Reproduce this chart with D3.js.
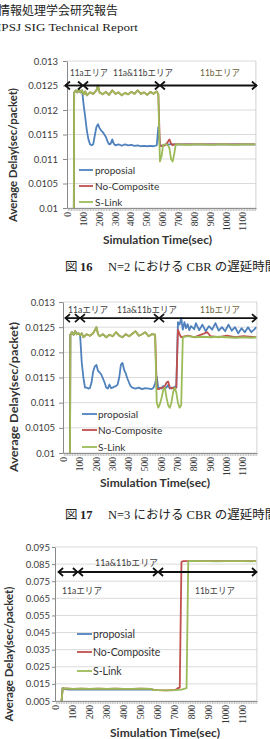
<!DOCTYPE html>
<html>
<head>
<meta charset="utf-8">
<script src="https://cdn.jsdelivr.net/npm/d3@7"></script>
<style>
  body { margin: 0; background: #fff; overflow: hidden; }
  svg { display: block; }
</style>
</head>
<body>
<svg id="page" width="270" height="739"></svg>
<script>
// ---- data (time in sec, delay in sec/packet) ----
const seriesNames = ["proposial", "No-Composite", "S-Link"];
const seriesColors = ["#4F81BD", "#C0504D", "#9BBB59"];
const areaNames = ["11aエリア", "11a&11bエリア", "11bエリア"];
const xLabelTicks = [0, 100, 200, 300, 400, 500, 600, 700, 800, 900, 1000, 1100];

const fig16YTicks = [0.01, 0.0105, 0.011, 0.0115, 0.012, 0.0125, 0.013];
const fig17YTicks = [0.01, 0.0105, 0.011, 0.0115, 0.012, 0.0125, 0.013];
const fig18YTicks = [0.005, 0.015, 0.025, 0.035, 0.045, 0.055, 0.065, 0.075, 0.085, 0.095];

// area boundaries for the double arrows (sec)
const fig16AreaBounds = [-18, 96, 580, 1191];
const fig17AreaBounds = [7, 99, 584, 1185];
const fig18AreaBounds = [13, 130, 602, 1185];

// fig 16 (N=2)
const fig16Lead = [[0, 0], [30, 0], [40, 0.01235], [50, 0.0124], [60, 0.01236], [70, 0.01242], [80, 0.01236], [90, 0.0124]];
const fig16Plateau = [[100, 0.01232], [110, 0.01238], [120, 0.0123], [140, 0.01236], [160, 0.01233], [180, 0.0124],
  [190, 0.0125], [200, 0.01236], [220, 0.01232], [240, 0.01237], [260, 0.01231], [280, 0.0124], [300, 0.01233],
  [320, 0.01236], [340, 0.0123], [360, 0.01235], [380, 0.01232], [400, 0.01237], [420, 0.01233], [440, 0.0124],
  [460, 0.01233], [480, 0.01236], [500, 0.01231], [520, 0.01237], [540, 0.01233], [560, 0.01238], [570, 0.01232]];
const fig16GreenTail = [[580, 0.01095], [590, 0.01105], [600, 0.01128], [610, 0.0113], [620, 0.0113], [630, 0.01128],
  [640, 0.01122], [650, 0.011], [660, 0.01095], [670, 0.0111], [680, 0.0113], [700, 0.0113], [750, 0.01129],
  [800, 0.0113], [850, 0.0113], [900, 0.01129], [950, 0.0113], [1000, 0.0113], [1050, 0.01129], [1100, 0.0113],
  [1150, 0.0113], [1180, 0.0113]];
const fig16RedTail = [[580, 0.01127], [590, 0.01127], [600, 0.01127], [610, 0.01128], [620, 0.0113], [630, 0.01135],
  [640, 0.0114], [650, 0.01132], [660, 0.01128], [670, 0.0113], [680, 0.0113], [700, 0.0113], [800, 0.0113],
  [900, 0.0113], [1000, 0.0113], [1100, 0.0113], [1180, 0.0113]];
const fig16BlueTail = [[100, 0.0121], [110, 0.01185], [120, 0.01158], [130, 0.0114], [140, 0.0113], [150, 0.01128],
  [160, 0.0113], [170, 0.01148], [180, 0.01165], [190, 0.01171], [200, 0.01163], [210, 0.01158], [220, 0.01155],
  [230, 0.0115], [240, 0.01145], [250, 0.01136], [260, 0.0113], [270, 0.01131], [280, 0.0114], [290, 0.01131],
  [300, 0.01128], [320, 0.0113], [340, 0.01127], [360, 0.0113], [380, 0.01128], [400, 0.01129], [420, 0.01127],
  [440, 0.01128], [460, 0.01126], [480, 0.01127], [500, 0.01126], [520, 0.01127], [540, 0.01126], [560, 0.01128],
  [570, 0.01165], [580, 0.01127], [590, 0.01127], [600, 0.01127], [620, 0.0113], [700, 0.0113], [800, 0.0113],
  [900, 0.0113], [1000, 0.0113], [1100, 0.0113], [1180, 0.0113]];

// fig 17 (N=3)
const fig17Lead = [[0, 0], [30, 0], [40, 0.01235], [50, 0.0124], [60, 0.01235], [70, 0.01242], [80, 0.01236],
  [90, 0.01238], [100, 0.01234]];
const fig17Plateau = [[110, 0.01238], [120, 0.0123], [140, 0.01236], [160, 0.01233], [180, 0.01238], [200, 0.0125],
  [210, 0.01236], [220, 0.01232], [240, 0.01236], [260, 0.0123], [280, 0.01235], [300, 0.01232], [320, 0.0124],
  [340, 0.01233], [360, 0.0123], [380, 0.01236], [400, 0.01232], [420, 0.01237], [440, 0.01242], [460, 0.01233],
  [480, 0.01236], [500, 0.0124], [520, 0.01232], [540, 0.01236], [560, 0.01235]];
const fig17GreenTail = [[570, 0.011], [580, 0.0109], [590, 0.01098], [600, 0.0111], [610, 0.01125], [620, 0.0113],
  [630, 0.0111], [640, 0.01095], [650, 0.0109], [660, 0.011], [670, 0.0112], [680, 0.0113], [690, 0.0112],
  [700, 0.011], [710, 0.0109], [720, 0.01095], [730, 0.0123], [760, 0.01232], [800, 0.0123], [850, 0.01231],
  [900, 0.0123], [950, 0.01231], [1000, 0.0123], [1050, 0.01229], [1100, 0.0123], [1150, 0.01229], [1180, 0.0123]];
const fig17RedTail = [[570, 0.01128], [580, 0.01127], [590, 0.01128], [600, 0.0113], [610, 0.0113], [620, 0.01133],
  [630, 0.0114], [640, 0.01142], [650, 0.0113], [660, 0.01128], [670, 0.0113], [680, 0.01128], [690, 0.0113],
  [700, 0.01245], [710, 0.01236], [720, 0.0123], [760, 0.01233], [800, 0.0123], [850, 0.01236], [880, 0.0124],
  [900, 0.01232], [950, 0.0123], [1000, 0.01233], [1050, 0.0123], [1100, 0.01232], [1180, 0.0123]];
const fig17BlueTail = [[110, 0.0118], [120, 0.0115], [130, 0.0113], [140, 0.0113], [150, 0.01128], [160, 0.01129],
  [170, 0.0114], [180, 0.01162], [190, 0.01172], [200, 0.01175], [210, 0.01163], [220, 0.0116], [230, 0.01156],
  [240, 0.01148], [250, 0.0114], [260, 0.0113], [270, 0.01128], [280, 0.01136], [290, 0.01129], [300, 0.0113],
  [310, 0.01132], [320, 0.01133], [330, 0.01136], [340, 0.0115], [350, 0.01175], [360, 0.01179], [370, 0.01165],
  [380, 0.01158], [390, 0.01148], [400, 0.0114], [410, 0.01133], [420, 0.0113], [440, 0.01128], [460, 0.0113],
  [480, 0.01127], [500, 0.01129], [520, 0.01128], [540, 0.01127], [550, 0.0113], [560, 0.01138], [570, 0.01152],
  [580, 0.01127], [590, 0.0113], [600, 0.01128], [610, 0.01133], [620, 0.01128], [630, 0.0113], [640, 0.01135],
  [650, 0.01128], [660, 0.0113], [670, 0.01128], [680, 0.01132], [690, 0.0113], [700, 0.0126], [710, 0.01255],
  [720, 0.01268], [730, 0.01245], [740, 0.0126], [750, 0.01248], [760, 0.01256], [770, 0.01244], [780, 0.01252],
  [800, 0.01246], [810, 0.01258], [830, 0.01244], [850, 0.01255], [870, 0.01242], [890, 0.01252], [910, 0.01245],
  [930, 0.01258], [950, 0.01243], [970, 0.0125], [990, 0.01242], [1010, 0.01255], [1030, 0.01243], [1050, 0.0125],
  [1070, 0.01238], [1090, 0.01248], [1110, 0.0124], [1130, 0.0125], [1150, 0.0124], [1170, 0.01246], [1180, 0.0125]];

// third figure (0.005 - 0.095 scale)
const fig18Lead = [[0, 0], [30, 0], [40, 0.0125]];
const fig18Plateau = [[50, 0.0123], [100, 0.0121], [150, 0.0122], [200, 0.0121], [250, 0.0122], [300, 0.0121],
  [350, 0.0122], [400, 0.0121], [450, 0.0121], [500, 0.0122], [560, 0.0121], [580, 0.0114], [600, 0.0113],
  [650, 0.0112], [700, 0.0113]];
const fig18GreenTail = [[740, 0.0116], [760, 0.0122], [770, 0.0125], [780, 0.0866], [800, 0.0869], [850, 0.0867],
  [900, 0.0868], [950, 0.0866], [1000, 0.0868], [1050, 0.0867], [1100, 0.0868], [1150, 0.0866], [1180, 0.0867]];
const fig18RedTail = [[710, 0.0118], [720, 0.0126], [730, 0.0128], [740, 0.0862], [750, 0.0868], [800, 0.0868],
  [900, 0.0867], [1000, 0.0868], [1100, 0.0867], [1180, 0.0867]];
const fig18BlueTail = [[50, 0.0119], [80, 0.0116], [100, 0.0117], [140, 0.0116], [180, 0.0117], [220, 0.0116],
  [260, 0.0117], [300, 0.0116], [340, 0.0117], [380, 0.0116], [420, 0.0117], [460, 0.0116], [500, 0.0117],
  [540, 0.0116], [570, 0.0116]];

// series in drawing order: proposial, No-Composite, S-Link (on top)
const fig16Series = [fig16Lead.concat(fig16BlueTail), fig16Lead.concat(fig16Plateau, fig16RedTail), fig16Lead.concat(fig16Plateau, fig16GreenTail)];
const fig17Series = [fig17Lead.concat(fig17BlueTail), fig17Lead.concat(fig17Plateau, fig17RedTail), fig17Lead.concat(fig17Plateau, fig17GreenTail)];
const fig18Series = [fig18Lead.concat(fig18BlueTail), fig18Lead.concat(fig18Plateau, fig18RedTail), fig18Lead.concat(fig18Plateau, fig18GreenTail)];

// ---- layout ----
const charts = [
  { name: "a", left: 67, right: 256, top: 61, bottom: 208, yDomain: [0.01, 0.013], yTicks: fig16YTicks,
    yTickSize: 4, yPad: 5, series: fig16Series, bounds: fig16AreaBounds, arrowY: 0.0125,
    labels: [[70, 75.5, 38], [113, 75.5, 60], [200, 75.5, 40]],
    legend: { x1: 79, x2: 93, tx: 95, ys: [170, 186, 202], size: 10 },
    xTitle: { cx: 157.5, y: 244, len: 109 }, yTitle: { cx: 12.5, cy: 155, len: 134 } },
  { name: "b", left: 63, right: 257, top: 302, bottom: 453, yDomain: [0.01, 0.013], yTicks: fig17YTicks,
    yTickSize: 4, yPad: 4, series: fig17Series, bounds: fig17AreaBounds, arrowY: 0.01268,
    labels: [[68, 312.5, 40], [117, 312.5, 60], [200, 312.5, 40]],
    legend: { x1: 82, x2: 97, tx: 98, ys: [414, 430, 447], size: 10 },
    xTitle: { cx: 155, y: 487, len: 110 }, yTitle: { cx: 13.5, cy: 397, len: 150 } },
  { name: "c", left: 55, right: 257, top: 547, bottom: 701, yDomain: [0.005, 0.095], yTicks: fig18YTicks,
    yTickSize: 3, yPad: 2, series: fig18Series, bounds: fig18AreaBounds, arrowY: 0.0804,
    labels: [[62, 593.5, 40], [95, 565.5, 63], [195, 593.5, 40]],
    legend: { x1: 77, x2: 92, tx: 93, ys: [634, 652, 671], size: 10.5 },
    xTitle: { cx: 165, y: 737, len: 110 }, yTitle: { cx: 9, cy: 654, len: 135 } }
];

const sansFont = "Lato, 'Noto Sans CJK JP', sans-serif";
const serifFont = "'Liberation Serif', 'Noto Sans CJK JP', serif";
const svg = d3.select("#page");

// page header
svg.append("text").attr("x", -2).attr("y", 14.5)
  .attr("font-family", "'Noto Sans CJK JP', sans-serif").attr("font-size", 12).attr("fill", "#222")
  .text("情報処理学会研究報告");
svg.append("text").attr("x", -3).attr("y", 30.5)
  .attr("font-family", serifFont).attr("font-size", 11).attr("fill", "#222")
  .attr("textLength", 141).attr("lengthAdjust", "spacingAndGlyphs")
  .text("IPSJ SIG Technical Report");

let drawChart = (c) => {
  const x = d3.scaleLinear().domain([-5, 1185]).range([c.left, c.right]);
  const y = d3.scaleLinear().domain(c.yDomain).range([c.bottom, c.top]);
  const g = svg.append("g");

  svg.append("clipPath").attr("id", "clip-" + c.name)
    .append("rect").attr("x", c.left).attr("y", c.top - 4)
    .attr("width", c.right - c.left).attr("height", c.bottom - c.top + 4);

  // gridlines + plot border
  g.selectAll(".grid").data(c.yTicks).enter().append("line")
    .attr("x1", c.left).attr("x2", c.right)
    .attr("y1", d => y(d)).attr("y2", d => y(d))
    .attr("stroke", "#d2d2d2").attr("stroke-width", 0.8);
  g.append("rect").attr("x", c.right - 0.5).attr("y", c.top).attr("width", 0.8).attr("height", c.bottom - c.top)
    .attr("fill", "#c8c8c8");

  // y axis
  const yAxis = g.append("g").attr("transform", `translate(${c.left},0)`)
    .call(d3.axisLeft(y).tickValues(c.yTicks).tickFormat(d => String(d))
      .tickSize(c.yTickSize).tickSizeOuter(0).tickPadding(c.yPad));
  yAxis.select(".domain").attr("stroke", "#8a8a8a");
  yAxis.selectAll(".tick line").attr("stroke", "#8a8a8a");
  yAxis.selectAll("text").attr("font-family", sansFont).attr("font-size", 9.5).attr("fill", "#404040");

  // x axis: a tick for every 10 sec sample
  const xAxis = g.append("g").attr("transform", `translate(0,${c.bottom})`)
    .call(d3.axisBottom(x).tickValues(d3.range(0, 1181, 10)).tickFormat("").tickSize(3).tickSizeOuter(0));
  xAxis.select(".domain").attr("stroke", "#8a8a8a");
  xAxis.selectAll(".tick line").attr("stroke", "#9a9a9a").attr("stroke-width", 0.6);

  g.selectAll(".xl").data(xLabelTicks).enter().append("text")
    .attr("transform", d => `translate(${x(d)},${c.bottom + 4}) rotate(-90)`)
    .attr("text-anchor", "end").attr("dy", "0.33em")
    .attr("font-family", serifFont).attr("font-size", 9.5).attr("fill", "#333")
    .text(d => d);

  // data lines
  const line = d3.line().x(d => x(d[0])).y(d => y(d[1]));
  g.append("g").attr("clip-path", `url(#clip-${c.name})`)
    .selectAll("path").data(c.series).enter().append("path")
    .attr("d", line).attr("fill", "none")
    .attr("stroke", (d, i) => seriesColors[i]).attr("stroke-width", 1.8)
    .attr("stroke-linejoin", "round");

  // area arrows
  const ay = y(c.arrowY);
  const segs = d3.pairs(c.bounds);
  const arr = g.append("g").attr("stroke", "#111").attr("stroke-width", 1.8).attr("fill", "none");
  segs.forEach(([a, b]) => {
    const x1 = x(a), x2 = x(b);
    arr.append("line").attr("x1", x1).attr("x2", x2).attr("y1", ay).attr("y2", ay);
    arr.append("path").attr("d", `M${x1 + 5},${ay - 4}L${x1 + 0.5},${ay}L${x1 + 5},${ay + 4}`);
    arr.append("path").attr("d", `M${x2 - 5},${ay - 4}L${x2 - 0.5},${ay}L${x2 - 5},${ay + 4}`);
  });
  g.selectAll(".area").data(areaNames).enter().append("text")
    .attr("x", (d, i) => c.labels[i][0]).attr("y", (d, i) => c.labels[i][1])
    .attr("textLength", (d, i) => c.labels[i][2]).attr("lengthAdjust", "spacingAndGlyphs")
    .attr("font-family", sansFont).attr("font-size", 9.5)
    .attr("fill", (d, i) => (i === 2 && c.name !== "c") ? "#6a6236" : "#404040")
    .text(d => d);

  // legend
  const lg = g.append("g");
  seriesNames.forEach((n, i) => {
    const ly = c.legend.ys[i];
    lg.append("line").attr("x1", c.legend.x1).attr("x2", c.legend.x2).attr("y1", ly).attr("y2", ly)
      .attr("stroke", seriesColors[i]).attr("stroke-width", 1.8);
    lg.append("text").attr("x", c.legend.tx).attr("y", ly).attr("dy", "0.35em")
      .attr("font-family", sansFont).attr("font-size", c.legend.size).attr("fill", "#333")
      .text(n);
  });

  // axis titles
  g.append("text").attr("x", c.xTitle.cx).attr("y", c.xTitle.y).attr("text-anchor", "middle")
    .attr("textLength", c.xTitle.len).attr("lengthAdjust", "spacingAndGlyphs")
    .attr("font-family", sansFont).attr("font-weight", "bold").attr("font-size", 11.5).attr("fill", "#333")
    .text("Simulation Time(sec)");
  g.append("text").attr("transform", `translate(${c.yTitle.cx},${c.yTitle.cy}) rotate(-90)`)
    .attr("text-anchor", "middle").attr("dy", "0.35em")
    .attr("textLength", c.yTitle.len).attr("lengthAdjust", "spacingAndGlyphs")
    .attr("font-family", sansFont).attr("font-weight", "bold").attr("font-size", 11.5).attr("fill", "#333")
    .text("Average Delay(sec/packet)");
};

charts.forEach(drawChart);

// figure captions (run past the right edge, as in the scan)
let caption = (base, num, rest) => {
  const t = svg.append("g").attr("font-family", serifFont).attr("font-size", 12.5).attr("fill", "#222");
  t.append("text").attr("x", 65).attr("y", base).text("図");
  t.append("text").attr("x", 80).attr("y", base).attr("font-weight", "bold").text(num);
  t.append("text").attr("x", 108).attr("y", base).text(rest);
};
caption(271, "16", "N=2 における CBR の遅延時間");
caption(519, "17", "N=3 における CBR の遅延時間");
</script>
</body>
</html>
